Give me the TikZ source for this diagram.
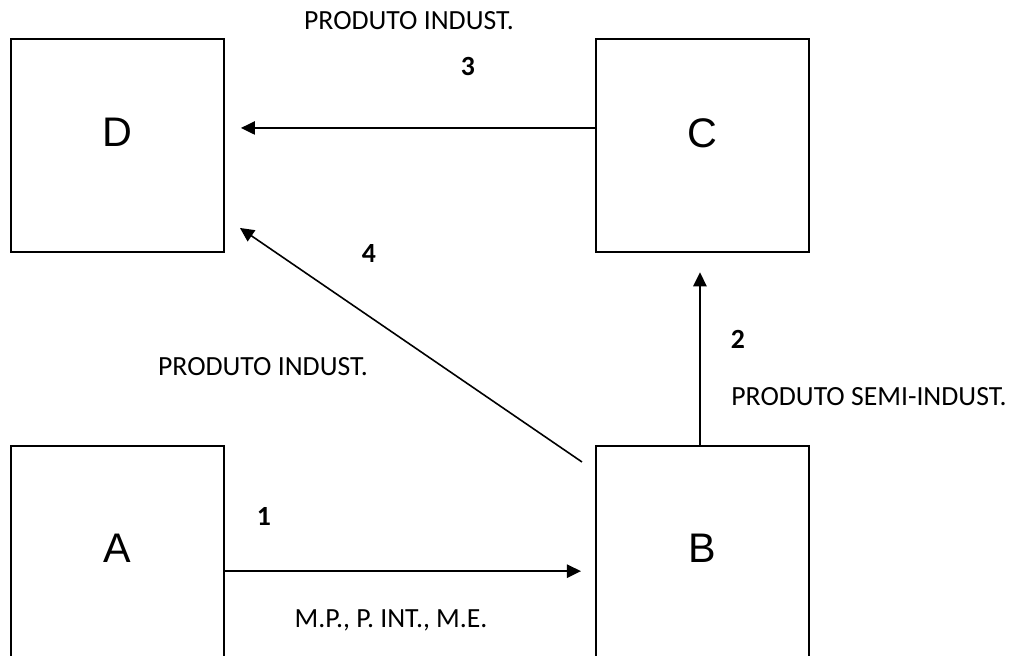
\documentclass[tikz,border=0pt]{standalone}
\usepackage{fontspec}
\setmainfont{Carlito}
\newfontfamily\boxfont{Liberation Sans}
\usetikzlibrary{arrows.meta,positioning}

\begin{document}
\begin{tikzpicture}[x=0.75pt,y=-0.75pt]
      \tikzstyle{box}=[draw=black, line width=1.5pt, minimum size=160pt, inner sep=0pt, font=\boxfont\fontsize{31}{36}\selectfont]
      \tikzstyle{box_top}=[box, text depth=19pt]
      \tikzstyle{box_bottom}=[box, text depth=7pt]
      \tikzstyle{flow}=[line width=1.2pt, -{Triangle[length=10.5pt,width=10pt]}]
      \tikzstyle{flow_text}=[anchor=base, inner sep=0pt, font=\fontsize{20.8}{24}\selectfont]
      \tikzstyle{flow_num}=[flow_text, font=\fontsize{20.8}{24}\selectfont\bfseries]

      \useasboundingbox (0,0) rectangle (1014,656);

      \node [box_top] (D) at (117.3,145.3) {D};
      \node [box_top] (C) [right=277.5pt of D] {C};
      \node [box_bottom] (A) [below=144pt of D] {A};
      \node [box_bottom] (B) [right=277.5pt of A] {B};

      % free ends of the arrows
      \coordinate (c3) at ([yshift=13pt]C.west);
      \coordinate (d3) at ([xshift=12pt,yshift=13pt]D.east);
      \coordinate (b2) at ([xshift=-2pt]B.north);
      \coordinate (c2) at ([xshift=-2pt,yshift=-14.5pt]C.south);
      \coordinate (a1) at ([yshift=-13.9pt]A.east);
      \coordinate (b1) at ([xshift=-10.5pt,yshift=-13.9pt]B.west);
      \coordinate (b4) at ([xshift=-9.75pt,yshift=-12.75pt]B.north west);
      \coordinate (d4) at ([xshift=11.25pt,yshift=18.75pt]D.south east);

      \draw [flow] (c3) -- (d3);
      \draw [flow] (b2) -- (c2);
      \draw [flow] (a1) -- (b1);
      \draw [flow] (b4) -- (d4);

      \node [flow_text] (t3) at (409,29.3) {PRODUTO INDUST.};
      \node [flow_num] (n3) at (468,76) {3};
      \node [flow_num] (n4) at (369,262.7) {4};
      \node [flow_text] (t4) at (263,375) {PRODUTO INDUST.};
      \node [flow_num] (n2) at (738,348) {2};
      \node [flow_text] (t2) at (869,405) {PRODUTO SEMI-INDUST.};
      \node [flow_num] (n1) at (264,525) {1};
      \node [flow_text] (t1) at (391,627) {M.P., P. INT., M.E.};

\end{tikzpicture}
\end{document}
